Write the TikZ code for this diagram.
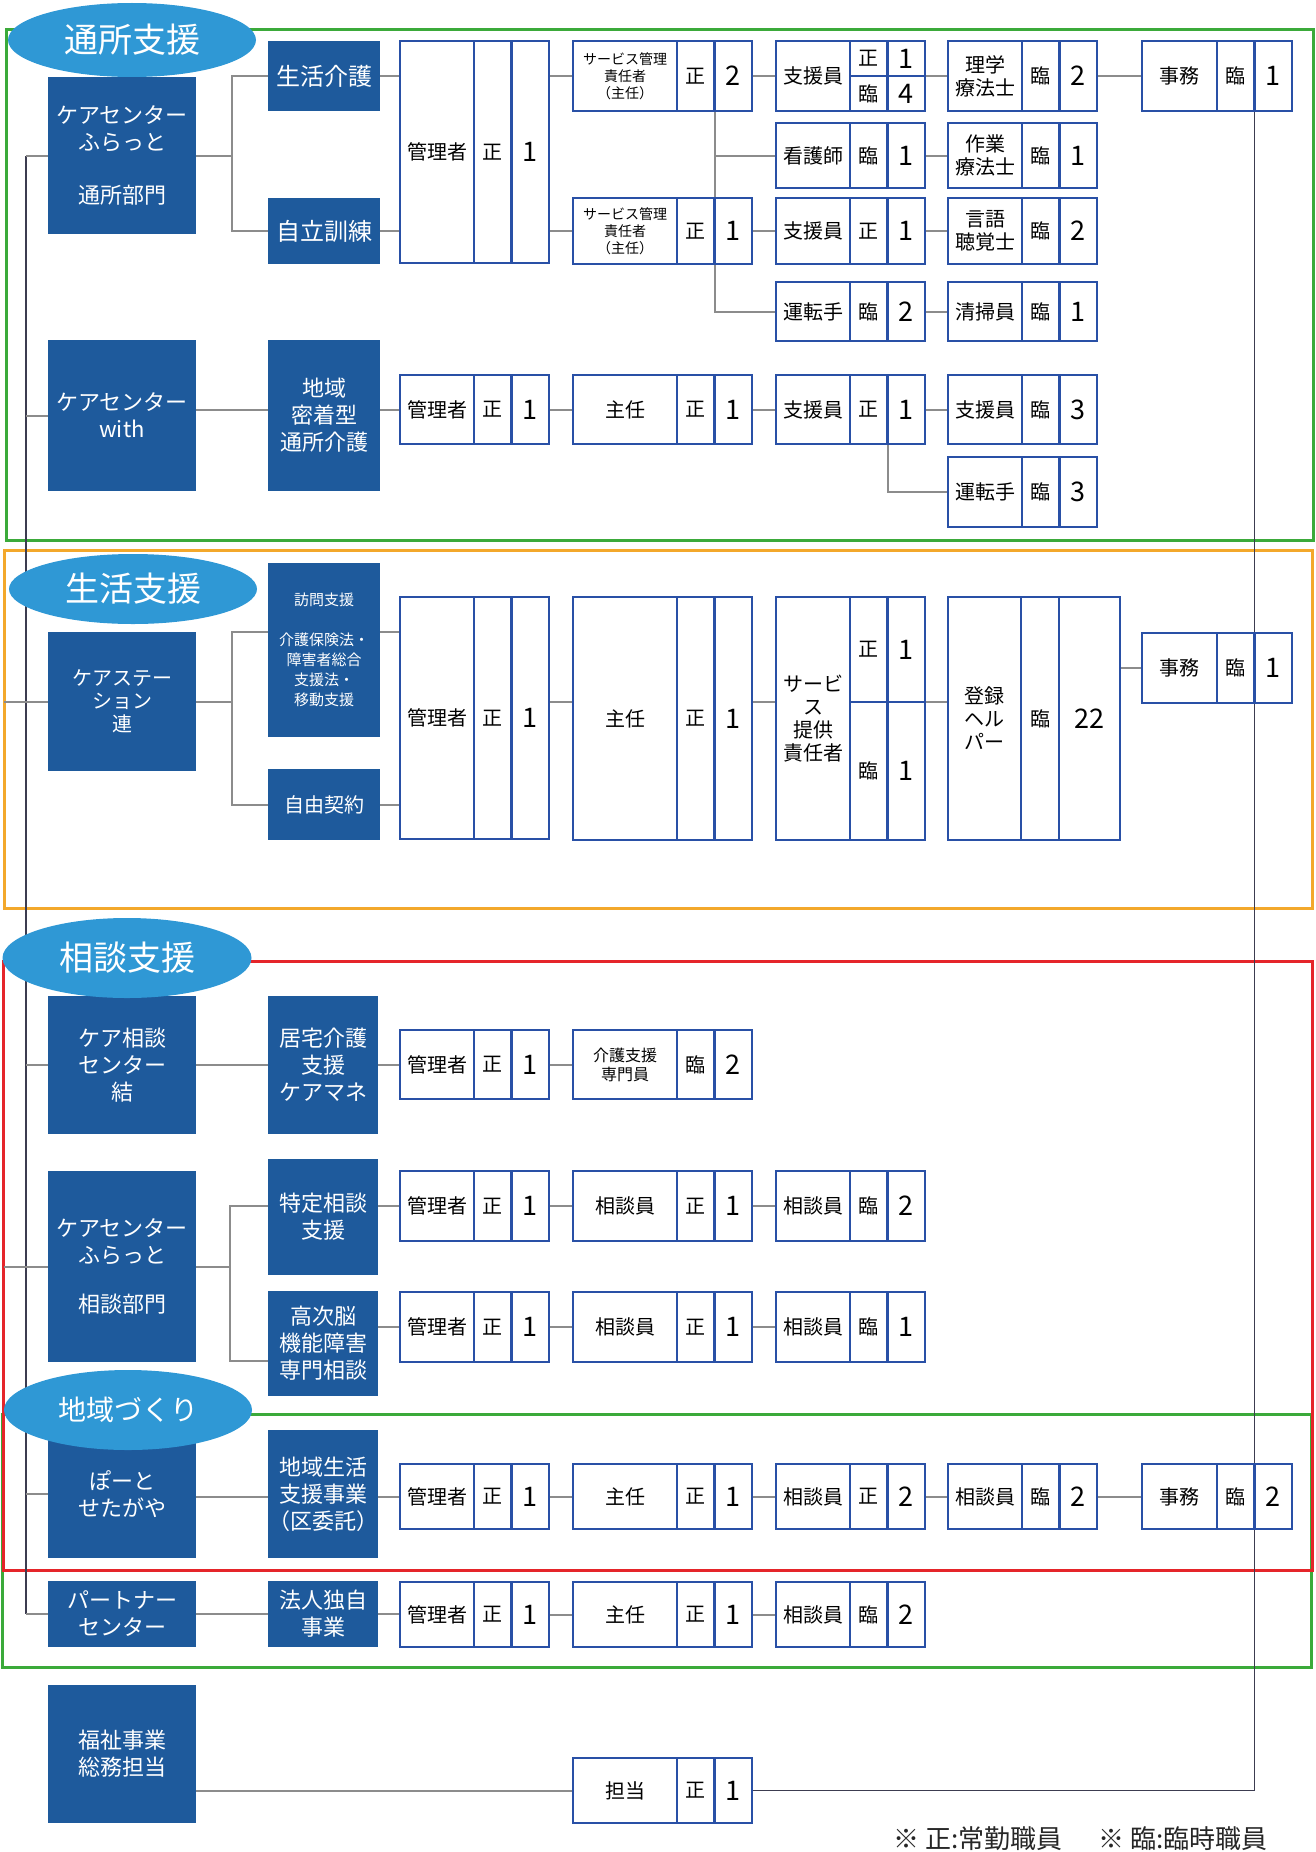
\documentclass[tikz,border=0pt]{standalone}
\usepackage{fontspec}
\setmainfont{Noto Sans CJK JP}
\usepackage{xcolor}
\usepackage{tikz}
\usetikzlibrary{shapes.geometric}
\definecolor{deptblue}{HTML}{1E5A9C}
\definecolor{tagblue}{HTML}{2F98D5}
\definecolor{cellblue}{HTML}{2950A6}
\definecolor{linegray}{HTML}{8C8C8C}
\definecolor{trunkgray}{HTML}{3C3C50}
\definecolor{framegreen}{HTML}{3BAA3A}
\definecolor{frameorange}{HTML}{F3A82B}
\definecolor{framered}{HTML}{E5252A}
\pgfdeclarelayer{bg}
\pgfsetlayers{bg,main}
\newcommand{\ftag}{\fontsize{34}{40}\selectfont}
\newcommand{\ftagsm}{\fontsize{28}{32}\selectfont}
\newcommand{\fdept}{\fontsize{22}{27}\selectfont}
\newcommand{\fbig}{\fontsize{24}{28}\selectfont}
\newcommand{\frole}{\fontsize{20}{23}\selectfont}
\newcommand{\fsmall}{\fontsize{14}{17}\selectfont}
\newcommand{\fkaigo}{\fontsize{16}{19}\selectfont}
\newcommand{\fhomon}{\fontsize{15}{20}\selectfont}
\newcommand{\fnum}{\fontsize{27}{30}\selectfont}
\newcommand{\fnote}{\fontsize{26}{30}\selectfont}
\tikzset{
  dept/.style={fill=deptblue, text=white, font=\fdept, align=center, inner sep=0pt, outer sep=0pt, anchor=north west},
  cellbox/.style={draw=cellblue, line width=2.4pt, fill=white, align=center, inner sep=0pt, outer sep=0pt, anchor=north west},
  tag/.style={ellipse, fill=tagblue, text=white, font=\ftag, inner sep=0pt},
  link/.style={draw=linegray, line width=2pt},
  trunk/.style={draw=trunkgray, line width=1.6pt},
  sectionframe/.style={line width=3pt}
}
% dark box: [opts]{name}{x1}{y1}{x2}{y2}{text}
\newcommand{\deptbox}[7][]{%
  \node[dept, minimum width={#5pt-#3pt}, minimum height={#6pt-#4pt}, #1] (#2) at (#3,#4) {#7};
}
% staff box: [opts]{name}{x}{ytop}{ybot}{label width}{role}{kind}{count}
\newcommand{\staff}[9][]{%
  \node[cellbox, font=\frole, minimum width=#6pt, minimum height={#5pt-#4pt}, #1] (#2-l) at (#3,#4) {#7};
  \node[cellbox, font=\frole, minimum width=37.5pt, minimum height={#5pt-#4pt}] (#2-t) at (#2-l.north east) {#8};
  \node[cellbox, font=\fnum, minimum width=37.5pt, minimum height={#5pt-#4pt}] (#2-n) at (#2-t.north east) {#9};
}

\begin{document}
\begin{tikzpicture}[x=1pt, y=-1pt]
\useasboundingbox (0,0) rectangle (1316,1852);

% 通所支援
\deptbox{fura1}{48}{77}{196}{234}{ケアセンター\\ふらっと\\[26pt]通所部門}
\deptbox[font=\fbig]{seikatsu}{268}{41}{380}{111}{生活介護}
\deptbox[font=\fbig]{jiritsu}{268}{198}{380}{264}{自立訓練}
\staff{kanri1}{400}{41}{263}{74}{管理者}{正}{1}
\staff[font=\fsmall]{sakan1}{573}{41}{111}{104}{サービス管理\\責任者\\（主任）}{正}{2}
\node[cellbox, font=\frole, minimum width=74pt, minimum height=70pt] (shien1-l) at (776,41) {支援員};
\node[cellbox, font=\frole, minimum width=37.5pt, minimum height=35pt] (shien1-t1) at (shien1-l.north east) {正};
\node[cellbox, font=\fnum, minimum width=37.5pt, minimum height=35pt] (shien1-n1) at (shien1-t1.north east) {1};
\node[cellbox, font=\frole, minimum width=37.5pt, minimum height=35pt] (shien1-t2) at (shien1-t1.south west) {臨};
\node[cellbox, font=\fnum, minimum width=37.5pt, minimum height=35pt] (shien1-n2) at (shien1-t2.north east) {4};
\staff{rigaku}{948}{41}{111}{74}{理学\\療法士}{臨}{2}
\staff{jimu1}{1142}{41}{111}{75}{事務}{臨}{1}
\staff{kango}{776}{123}{188}{74}{看護師}{臨}{1}
\staff{sagyo}{948}{123}{188}{74}{作業\\療法士}{臨}{1}
\staff[font=\fsmall]{sakan2}{573}{198}{264}{104}{サービス管理\\責任者\\（主任）}{正}{1}
\staff{shien2}{776}{198}{264}{74}{支援員}{正}{1}
\staff{gengo}{948}{198}{264}{74}{言語\\聴覚士}{臨}{2}
\staff{unten1}{776}{282}{341}{74}{運転手}{臨}{2}
\staff{seiso}{948}{282}{341}{74}{清掃員}{臨}{1}
\deptbox{with}{48}{340}{196}{491}{ケアセンター\\with}
\deptbox{missha}{268}{340}{380}{491}{地域\\密着型\\通所介護}
\staff{kanri2}{400}{375}{444}{74}{管理者}{正}{1}
\staff{shunin2}{573}{375}{444}{104}{主任}{正}{1}
\staff{shien3}{776}{375}{444}{74}{支援員}{正}{1}
\staff{shien4}{948}{375}{444}{74}{支援員}{臨}{3}
\staff{unten2}{948}{457}{527}{74}{運転手}{臨}{3}

% 生活支援
\deptbox[font=\frole]{ren}{48}{632}{196}{771}{ケアステー\\ション\\連}
\deptbox[font=\fhomon]{homon}{268}{563}{380}{737}{訪問支援\\[20pt]介護保険法・\\障害者総合\\支援法・\\移動支援}
\deptbox[font=\frole]{jiyu}{268}{769}{380}{840}{自由契約}
\staff{kanri3}{400}{597}{839}{74}{管理者}{正}{1}
\staff{shunin3}{573}{597}{840}{104}{主任}{正}{1}
\node[cellbox, font=\frole, minimum width=74pt, minimum height=243pt] (teikyo-l) at (776,597) {サービ\\ス\\提供\\責任者};
\node[cellbox, font=\frole, minimum width=37.5pt, minimum height=105pt] (teikyo-t1) at (teikyo-l.north east) {正};
\node[cellbox, font=\fnum, minimum width=37.5pt, minimum height=105pt] (teikyo-n1) at (teikyo-t1.north east) {1};
\node[cellbox, font=\frole, minimum width=37.5pt, minimum height=138pt] (teikyo-t2) at (teikyo-t1.south west) {臨};
\node[cellbox, font=\fnum, minimum width=37.5pt, minimum height=138pt] (teikyo-n2) at (teikyo-t2.north east) {1};
\node[cellbox, font=\frole, minimum width=73pt, minimum height=243pt] (toroku-l) at (948,597) {登録\\ヘル\\パー};
\node[cellbox, font=\frole, minimum width=38pt, minimum height=243pt] (toroku-t) at (toroku-l.north east) {臨};
\node[cellbox, font=\fnum, minimum width=61pt, minimum height=243pt] (toroku-n) at (toroku-t.north east) {22};
\staff{jimu2}{1142}{633}{703}{75}{事務}{臨}{1}

% 相談支援
\deptbox{musubi}{48}{996}{196}{1134}{ケア相談\\センター\\結}
\deptbox{kyotaku}{268}{996}{378}{1134}{居宅介護\\支援\\ケアマネ}
\staff{kanri4}{400}{1030}{1099}{74}{管理者}{正}{1}
\staff[font=\fkaigo]{kaigo}{573}{1030}{1099}{104}{介護支援\\専門員}{臨}{2}
\deptbox{fura2}{48}{1171}{196}{1362}{ケアセンター\\ふらっと\\[22pt]相談部門}
\deptbox{tokutei}{268}{1159}{378}{1275}{特定相談\\支援}
\deptbox{koji}{268}{1291}{378}{1396}{高次脳\\機能障害\\専門相談}
\staff{kanri5}{400}{1171}{1241}{74}{管理者}{正}{1}
\staff{sodan5}{573}{1171}{1241}{104}{相談員}{正}{1}
\staff{sodan5b}{776}{1171}{1241}{74}{相談員}{臨}{2}
\staff{kanri6}{400}{1292}{1362}{74}{管理者}{正}{1}
\staff{sodan6}{573}{1292}{1362}{104}{相談員}{正}{1}
\staff{sodan6b}{776}{1292}{1362}{74}{相談員}{臨}{1}

% 地域づくり
\deptbox{port}{48}{1430}{196}{1558}{ぽーと\\せたがや}
\deptbox{chiiki}{268}{1430}{378}{1558}{地域生活\\支援事業\\（区委託）}
\staff{kanri7}{400}{1464}{1529}{74}{管理者}{正}{1}
\staff{shunin7}{573}{1464}{1529}{104}{主任}{正}{1}
\staff{sodan7}{776}{1464}{1529}{74}{相談員}{正}{2}
\staff{sodan7b}{948}{1464}{1529}{74}{相談員}{臨}{2}
\staff{jimu7}{1142}{1464}{1529}{75}{事務}{臨}{2}
\deptbox{partner}{48}{1581}{196}{1647}{パートナー\\センター}
\deptbox{hojin}{268}{1581}{378}{1647}{法人独自\\事業}
\staff{kanri8}{400}{1582}{1647}{74}{管理者}{正}{1}
\staff{shunin8}{573}{1582}{1647}{104}{主任}{正}{1}
\staff{sodan8}{776}{1582}{1647}{74}{相談員}{臨}{2}

% 総務
\deptbox{fukushi}{48}{1685}{196}{1823}{福祉事業\\総務担当}
\staff{tanto}{573}{1758}{1823}{104}{担当}{正}{1}
\node[anchor=base west, font=\fnote, text=black!85] (note) at (890,1848) {※ 正:常勤職員\hspace{36pt}※ 臨:臨時職員};

\begin{pgfonlayer}{bg}
% frames
\draw[sectionframe, framegreen] (6,30) rectangle (1313,540);
\draw[sectionframe, frameorange] (4,550) rectangle (1312,908);
\draw[sectionframe, framegreen] (2,1414) rectangle (1311,1667);
\draw[sectionframe, framered] (3,961) rectangle (1312,1570);
% trunks
\coordinate (lt) at (26,0);
\draw[trunk] (fura1.west -| lt) -- (partner.west -| lt);
\foreach \d in {fura1,with,ren,musubi,fura2,port,partner}
  \draw[link] (\d.west) -- (\d.west -| lt);
\draw[link] (ren.west -| lt) -- ++(-22,0);
\draw[link] (fura2.west -| lt) -- ++(-22,0);
\draw[trunk] (jimu1-n.south west) |- (tanto-n.east);
\draw[link] (fukushi.east |- tanto-l.west) -- (tanto-l.west);
% 通所支援
\draw[link] (fura1.east) -- ++(36,0);
\draw[link] (seikatsu.west) -- ++(-36,0) |- (jiritsu.west);
\draw[link] (seikatsu.east) -- (seikatsu.east -| kanri1-l.west);
\draw[link] (jiritsu.east) -- (jiritsu.east -| kanri1-l.west);
\draw[link] (kanri1-n.east |- sakan1-l.west) -- (sakan1-l.west);
\draw[link] (kanri1-n.east |- sakan2-l.west) -- (sakan2-l.west);
\draw[link] (sakan1-n.east) -- (shien1-l.west);
\draw[link] (shien1-n1.south east) -- (rigaku-l.west);
\draw[link] (sakan1-n.south west) |- (unten1-l.west);
\draw[link] (sakan1-n.south west |- kango-l.west) -- (kango-l.west);
\draw[link] (with.east |- kanri2-l.west) -- (missha.west |- kanri2-l.west);
\draw[link] (missha.east |- kanri2-l.west) -- (kanri2-l.west);
\draw[link] (shien3-n.south west) |- (unten2-l.west);
% 生活支援
\coordinate (br2) at (232,632);
\coordinate (r2) at (0,702);
\draw[link] (ren.east) -- (ren.east -| br2);
\draw[link] (homon.west |- br2) -- (br2) |- (jiyu.west);
\draw[link] (homon.east |- br2) -- (kanri3-l.west |- br2);
\draw[link] (jiyu.east) -- (jiyu.east -| kanri3-l.west);
\draw[link] (kanri3-n.east |- r2) -- (shunin3-l.west |- r2);
\draw[link] (shunin3-n.east |- r2) -- (teikyo-l.west |- r2);
\draw[link] (teikyo-n1.south east) -- (toroku-l.west |- r2);
\draw[link] (toroku-n.east |- jimu2-l.west) -- (jimu2-l.west);
% 相談支援
\coordinate (br3) at (230,1206);
\coordinate (br3b) at (230,1361);
\draw[link] (musubi.east) -- (kyotaku.west);
\draw[link] (kyotaku.east) -- (kyotaku.east -| kanri4-l.west);
\draw[link] (fura2.east) -- (fura2.east -| br3);
\draw[link] (tokutei.west |- br3) -- (br3) -- (br3b) -- (koji.west |- br3b);
\draw[link] (tokutei.east |- kanri5-l.west) -- (kanri5-l.west);
\draw[link] (koji.east |- kanri6-l.west) -- (kanri6-l.west);
% 地域づくり
\draw[link] (port.east |- kanri7-l.west) -- (chiiki.west |- kanri7-l.west);
\draw[link] (chiiki.east |- kanri7-l.west) -- (kanri7-l.west);
\draw[link] (partner.east) -- (hojin.west);
\draw[link] (hojin.east) -- (hojin.east -| kanri8-l.west);
% rows
\foreach \a/\b in {rigaku/jimu1, kango/sagyo, sakan2/shien2, shien2/gengo, unten1/seiso,
    kanri2/shunin2, shunin2/shien3, shien3/shien4, kanri4/kaigo,
    kanri5/sodan5, sodan5/sodan5b, kanri6/sodan6, sodan6/sodan6b,
    kanri7/shunin7, shunin7/sodan7, sodan7/sodan7b, sodan7b/jimu7,
    kanri8/shunin8, shunin8/sodan8}
  \draw[link] (\a-n.east) -- (\b-l.west);
\end{pgfonlayer}

% section tags
\node[tag, minimum width=248pt, minimum height=74pt] (tagtsusho) at (132,40) {通所支援};
\node[tag, minimum width=248pt, minimum height=70pt] (tagseikatsu) at (133,589) {生活支援};
\node[tag, minimum width=249pt, minimum height=80pt] (tagsodan) at (127,958) {相談支援};
\node[tag, minimum width=248pt, minimum height=80pt, font=\ftagsm] (tagchiiki) at (128,1410) {地域づくり};
\end{tikzpicture}
\end{document}
